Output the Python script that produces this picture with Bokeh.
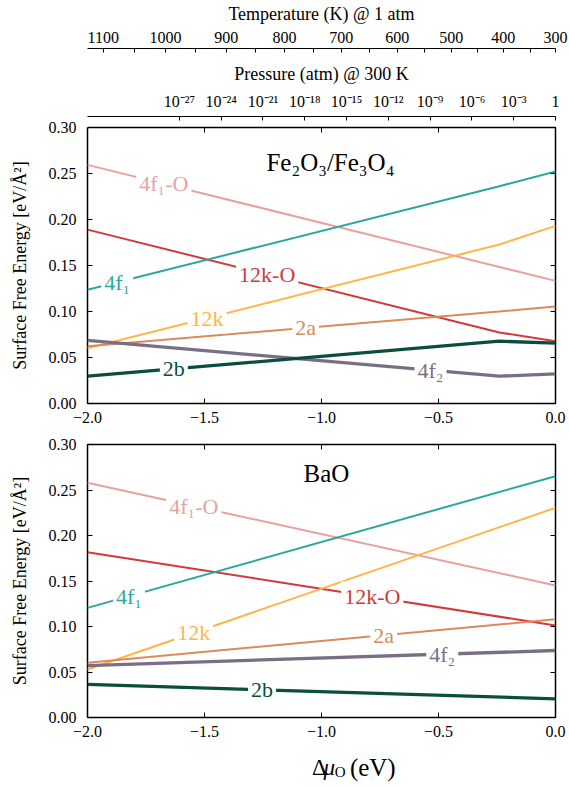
import numpy as np
from bokeh.plotting import figure
from bokeh.models import LinearAxis, FixedTicker, Range1d, ColumnDataSource, Label, PrintfTickFormatter
from bokeh.layouts import column
from bokeh.embed import file_html
from bokeh.resources import INLINE
from bokeh.core.properties import value

FONT = "Liberation Serif"

# ---------------- data ----------------
series = ["4f₁-O", "12k-O", "4f₁", "12k", "2a", "4f₂", "2b"]
colors = ["#e8a1a1", "#cf3a3c", "#2aa8a0", "#ffb547", "#d98b5c", "#7a6e85", "#0a4f3d"]
widths = [2, 2, 2, 2, 2, 3.3, 3.3]

# Fe2O3/Fe3O4 panel
mu_fe = [-2.0, -0.24, 0.0]
fe_4f1_O = [0.2594, 0.1484, 0.1333]
fe_12k_O = [0.1890, 0.0772, 0.0677]
fe_4f1 = [0.1236, 0.2362, 0.2522]
fe_12k = [0.0601, 0.1728, 0.1931]
fe_2a = [0.0623, 0.1000, 0.1054]
fe_4f2 = [0.0685, 0.0297, 0.0322]
fe_2b = [0.0297, 0.0677, 0.0656]
fe_label_x = [-1.674, -1.232, -1.873, -1.489, -1.068, -0.534, -1.631]

# BaO panel
mu_ba = [-2.0, 0.0]
ba_4f1_O = [0.2579, 0.1451]
ba_12k_O = [0.1817, 0.1011]
ba_4f1 = [0.1205, 0.2652]
ba_12k = [0.0527, 0.2304]
ba_2a = [0.0601, 0.1080]
ba_4f2 = [0.0571, 0.0736]
ba_2b = [0.0363, 0.0205]
ba_label_x = [-1.546, -0.783, -1.823, -1.546, -0.734, -0.484, -1.254]

x_ticks = [-2.0, -1.5, -1.0, -0.5, 0.0]
x_tick_labels = ["−2.0", "−1.5", "−1.0", "−0.5", "0.0"]
y_ticks = [0.0, 0.05, 0.10, 0.15, 0.20, 0.25, 0.30]

# temperature (K) @ 1 atm  -> position on the Δμ_O axis
temp_labels = [1100, 1000, 900, 800, 700, 600, 500, 400, 300]
temp_mu = [-1.9329, -1.6667, -1.4073, -1.1581, -0.9158, -0.6765, -0.4457, -0.2235, 0.0]
temp_minor_mu = [-1.7991, -1.5385, -1.2821, -1.0329, -0.7936, -0.5598, -0.3320, -0.1068]

# pressure (atm) @ 300 K
pressure_exp = [-27, -24, -21, -18, -15, -12, -9, -6, -3, 0]
kT300 = 8.617333e-5 * 300.0
pressure_mu = [e * np.log(10.0) * kT300 for e in pressure_exp]

SUP = str.maketrans("-0123456789", "⁻⁰¹²³⁴⁵⁶⁷⁸⁹")


def pressure_label(e):
    return "1" if e == 0 else "10" + str(e).translate(SUP)


def base_axis_style(ax):
    ax.major_label_text_font = FONT
    ax.major_label_text_font_size = "16px"
    ax.major_label_text_color = "black"
    ax.axis_label_text_font = FONT
    ax.axis_label_text_font_style = "normal"
    ax.axis_label_text_color = "black"
    ax.minor_tick_line_color = None
    ax.major_tick_line_color = "black"


def tick_only_axis(ticks):
    """inner ticks on a frame side, no labels, no extra size"""
    ax = LinearAxis(ticker=FixedTicker(ticks=ticks))
    base_axis_style(ax)
    ax.axis_line_color = None
    ax.major_tick_in = 5
    ax.major_tick_out = 0
    ax.major_label_overrides = {t: "" for t in ticks}
    ax.major_label_text_font_size = "0px"
    ax.major_label_standoff = 0
    return ax


def spacer_axis(size):
    ax = LinearAxis(ticker=FixedTicker(ticks=[-2.0]))
    base_axis_style(ax)
    ax.axis_line_color = None
    ax.major_tick_line_color = "white"
    ax.major_tick_in = 0
    ax.major_tick_out = size
    ax.major_label_overrides = {-2.0: ""}
    ax.major_label_text_font_size = "0px"
    ax.major_label_text_color = "white"
    ax.major_label_standoff = 0
    return ax


def make_panel(frame_h, border_top, border_bottom, mu, ys_list, label_xs):
    p = figure(frame_width=468, frame_height=frame_h,
               x_range=Range1d(-2.0, 0.0), y_range=Range1d(0.0, 0.30),
               output_backend="svg", toolbar_location=None, tools="", title=None,
               min_border_left=87, min_border_right=14,
               min_border_top=border_top, min_border_bottom=border_bottom,
               background_fill_color="white", border_fill_color="white",
               outline_line_color="black", outline_line_width=1.5)
    p.grid.visible = False

    xa = p.below[0]
    base_axis_style(xa)
    xa.ticker = FixedTicker(ticks=x_ticks)
    xa.major_label_overrides = {t: l for t, l in zip(x_ticks, x_tick_labels)}
    xa.major_tick_in = 5
    xa.major_tick_out = 0
    xa.axis_line_color = None
    xa.major_label_standoff = 8

    ya = p.left[0]
    base_axis_style(ya)
    ya.ticker = FixedTicker(ticks=y_ticks)
    ya.formatter = PrintfTickFormatter(format="%.2f")
    ya.major_tick_in = 5
    ya.major_tick_out = 0
    ya.axis_line_color = None
    ya.major_label_standoff = 11
    ya.axis_label = "Surface Free Energy [eV/Å²]"
    ya.axis_label_text_font_size = "18px"
    ya.axis_label_standoff = 16

    p.add_layout(tick_only_axis(y_ticks), "right")

    for ys, c, w in zip(ys_list, colors, widths):
        p.line(mu, ys, line_color=c, line_width=w)

    label_y = [float(np.interp(lx, mu, ys)) for lx, ys in zip(label_xs, ys_list)]
    src = ColumnDataSource(dict(x=label_xs, y=label_y, text=series, color=colors))
    p.text("x", "y", "text", source=src, text_color="color",
           text_font=value(FONT), text_font_size=value("22px"),
           text_align="center", text_baseline="middle",
           background_fill_color="white", padding=3)
    return p


# ---------------- top panel ----------------
p1 = make_panel(276, 127, 30, mu_fe,
                [fe_4f1_O, fe_12k_O, fe_4f1, fe_12k, fe_2a, fe_4f2, fe_2b], fe_label_x)
p1.add_layout(tick_only_axis(x_ticks), "above")
p1.add_layout(spacer_axis(11), "above")

pax = LinearAxis(ticker=FixedTicker(ticks=pressure_mu))
base_axis_style(pax)
pax.major_label_overrides = {m: pressure_label(e) for m, e in zip(pressure_mu, pressure_exp)}
pax.axis_line_color = "black"
pax.major_tick_in = 4
pax.major_tick_out = 0
pax.major_label_standoff = 7
pax.axis_label = "Pressure (atm) @ 300 K"
pax.axis_label_text_font_size = "18px"
pax.axis_label_standoff = 6
p1.add_layout(pax, "above")

p1.add_layout(spacer_axis(12), "above")

tax = LinearAxis(ticker=FixedTicker(ticks=temp_mu, minor_ticks=temp_minor_mu))
base_axis_style(tax)
tax.major_label_overrides = {m: str(t) for m, t in zip(temp_mu, temp_labels)}
tax.axis_line_color = "black"
tax.major_tick_in = 4
tax.major_tick_out = 0
tax.minor_tick_line_color = "black"
tax.minor_tick_in = 4
tax.minor_tick_out = 0
tax.major_label_standoff = 6
tax.axis_label = "Temperature (K) @ 1 atm"
tax.axis_label_text_font_size = "18px"
tax.axis_label_standoff = 5
p1.add_layout(tax, "above")

p1.add_layout(Label(x=-0.962, y=0.2623, text="Fe₂O₃/Fe₃O₄", text_font=FONT,
                    text_font_size="25px", text_align="center", text_baseline="middle",
                    text_color="black"))

# ---------------- bottom panel ----------------
p2 = make_panel(273, 11, 28, mu_ba,
                [ba_4f1_O, ba_12k_O, ba_4f1, ba_12k, ba_2a, ba_4f2, ba_2b], ba_label_x)
p2.add_layout(tick_only_axis(x_ticks), "above")
p2.add_layout(Label(x=-0.979, y=0.2678, text="BaO", text_font=FONT,
                    text_font_size="25px", text_align="center", text_baseline="middle",
                    text_color="black"))

# ---------------- x-axis title  Δμ_O (eV) ----------------
p3 = figure(width=569, height=42, x_range=Range1d(0, 569), y_range=Range1d(42, 0),
            output_backend="svg", toolbar_location=None, tools="", title=None,
            min_border=0, x_axis_location=None, y_axis_location=None,
            outline_line_color=None, background_fill_color="white", border_fill_color="white")
p3.grid.visible = False
xlab = ColumnDataSource(dict(
    x=[273.0, 287.0, 300.5, 319.0],
    y=[22.0, 22.0, 26.0, 22.0],
    text=["Δ", "μ", "O", "(eV)"],
    size=["23px", "23px", "15px", "25px"],
    style=["normal", "italic", "normal", "normal"],
))
p3.text("x", "y", "text", source=xlab, text_font=value(FONT), text_font_size="size",
        text_font_style="style", text_align="left", text_baseline="middle",
        text_color="black")

layout = column(p1, p2, p3)
open("out.html", "w").write(file_html(layout, INLINE))
